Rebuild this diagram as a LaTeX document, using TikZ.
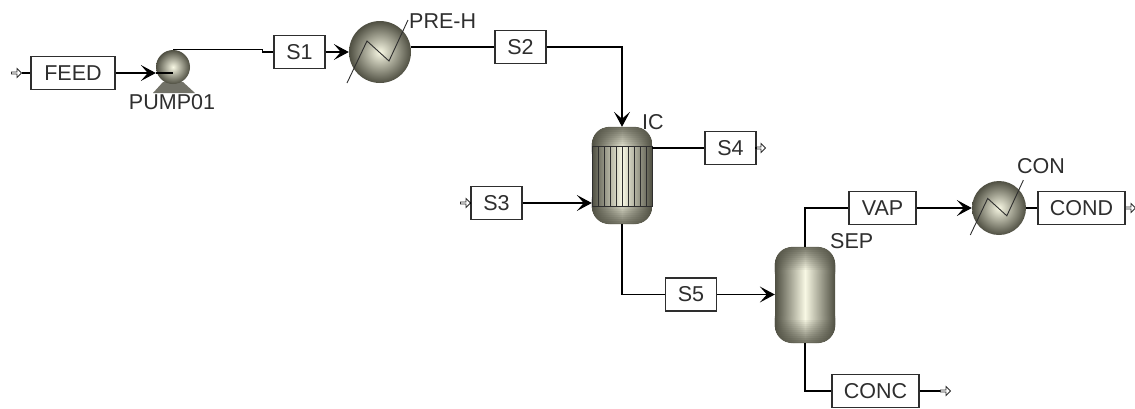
\documentclass[tikz,border=0pt]{standalone}
\usepackage{fontspec}
\setmainfont{Liberation Sans}
\usetikzlibrary{positioning,calc,arrows.meta,shapes.arrows}
\definecolor{shell}{HTML}{4F4F42}
\definecolor{glow}{HTML}{F8F8E4}
\definecolor{ink}{HTML}{2E2E2E}
\tikzset{
  stream/.style={draw=ink,fill=white,line width=1.1pt,minimum height=33pt,inner sep=0pt,text=ink,font=\fontsize{21.5}{24}\selectfont},
  tag/.style={inner sep=0pt,text=ink,font=\fontsize{21.5}{24}\selectfont},
  ball/.style={circle,inner sep=0pt,shading=radial,inner color=glow,outer color=shell},
  vessel/.style={rectangle,inner sep=0pt,minimum width=60pt,rounded corners=18pt,left color=shell,right color=shell,middle color=glow},
  port/.style={draw=ink,fill=white,single arrow,line width=0.8pt,inner sep=0pt,minimum height=10pt,minimum width=9pt,single arrow head extend=1.5pt},
  pipe/.style={draw=black,line width=1.1pt},
  feedin/.style={pipe,-{Stealth[length=15pt,width=16pt,inset=7pt]}}
}
\begin{document}
\begin{tikzpicture}[x=1pt,y=-1pt]
  \useasboundingbox (0,0) rectangle (1135,408);

  % unit blocks
  \fill[shell!80] (163,82) -- (183,82) -- (195,93) -- (153,93) -- cycle;
  \node (pump) [ball,minimum size=34pt] at (173,67) {};
  \node (preh) [ball,minimum size=62pt] at (380,52) {};
  \node (con) [ball,minimum size=54pt] at (999,208) {};
  \node (ic) [vessel,minimum height=97pt] at (622,175.5) {};
  \node (sep) [vessel,minimum height=96pt] at (805,295) {};

  % darker vessel ends
  \foreach \v in {ic,sep}
  {\begin{scope}
      \clip[rounded corners=18pt] (\v.north west) rectangle (\v.south east);
      \foreach \r [evaluate=\r as \p using 20+80*\r/12] in {0,...,12}
      {\shade[left color=shell,right color=shell,middle color=glow!\p!shell]
        ($(\v.north west)+(0,2*\r)$) rectangle ($(\v.north east)+(0,2*\r+2.5)$);
       \shade[left color=shell,right color=shell,middle color=glow!\p!shell]
        ($(\v.south west)+(0,-2*\r)$) rectangle ($(\v.south east)+(0,-2*\r-2.5)$);}
    \end{scope}}

  % tube bundle
  \node (band) [rectangle,draw=ink,line width=1pt,inner sep=0pt,minimum width=60pt,minimum height=60pt,left color=shell,right color=shell,middle color=glow] at (622,176) {};
  \foreach \x in {598,604,610,616,622,628,634,640,646}
  {\draw[ink,line width=1pt] (\x,146) -- (\x,206);}

  % heat exchanger zigzags
  \foreach \u/\s in {preh/1,con/0.87}
  {\draw[ink,line width=0.9pt] ($(\u)+(-33*\s,31*\s)$) -- ($(\u)+(-13*\s,-11*\s)$) -- ($(\u)+(9*\s,9*\s)$) -- ($(\u)+(28*\s,-32*\s)$);}

  % stream boxes
  \node (feed) [stream,minimum width=84pt] at (73,73) {FEED};
  \node (s1) [stream,minimum width=51pt] at (299.5,52) {S1};
  \node (s2) [stream,minimum width=51pt] at (520.5,47) {S2};
  \node (s3) [stream,minimum width=51pt] at (496.5,203) {S3};
  \node (s4) [stream,minimum width=51pt] at (730.5,148) {S4};
  \node (s5) [stream,minimum width=51pt] at (691,294.5) {S5};
  \node (vap) [stream,minimum width=67pt] at (882.5,208) {VAP};
  \node (cond) [stream,minimum width=87pt] at (1081.5,208) {COND};
  \node (conc) [stream,minimum width=87pt] at (875.5,391) {CONC};

  % labels
  \node (pumplbl) [tag] at (172,102) {PUMP01};
  \node (prehlbl) [tag,anchor=west] at (409,21) {PRE-H};
  \node (iclbl) [tag,anchor=west] at (642,122) {IC};
  \node (seplbl) [tag,anchor=west] at (830,241) {SEP};
  \node (conlbl) [tag,anchor=west] at (1017,166) {CON};

  % open ports
  \node (pfeed) [port] at (16,73) {};
  \node (ps3) [port] at (465,203) {};
  \node (ps4) [port] at (760,148) {};
  \node (pcond) [port] at (1130,208) {};
  \node (pconc) [port] at (945,391) {};

  % streams
  \draw[pipe] (pfeed) -- (feed);
  \draw[feedin] (feed.east) -- (pump.west |- feed.east);
  \draw[pipe] (pump.west |- feed.east) -- (pump.center |- feed.east);
  \draw[pipe] (pump.north) -- ($(pump.north -| s1.west)+(-11,0)$) -- ($(s1.west)+(-11,0)$) -- (s1.west);
  \draw[feedin] (s1) -- (preh.west |- s1);
  \draw[pipe] (preh.east |- s2) -- (s2);
  \draw[feedin] (s2) -| (ic.north);
  \draw[pipe] (ps3) -- (s3);
  \draw[feedin] (s3) -- (ic.west |- s3);
  \draw[pipe] (ic.east |- s4) -- (s4);
  \draw[pipe] (s4) -- (ps4);
  \draw[pipe] (ic.south) |- (s5);
  \draw[feedin] (s5) -- (sep.west |- s5);
  \draw[pipe] (sep.north) |- (vap);
  \draw[feedin] (vap) -- (con.west);
  \draw[pipe] (con) -- (cond);
  \draw[pipe] (sep.south) |- (conc);
  \draw[pipe] (conc) -- (pconc);
\end{tikzpicture}
\end{document}
